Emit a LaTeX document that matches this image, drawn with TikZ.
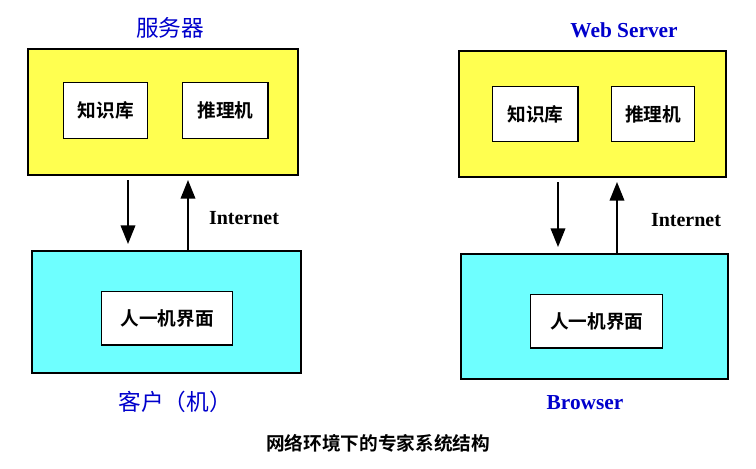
\documentclass[tikz,border=0pt]{standalone}
\usepackage{fontspec}
\setmainfont{Liberation Serif}
\newfontfamily\cjk[BoldFont={* Bold}]{Noto Sans CJK SC}
\usetikzlibrary{arrows.meta}
\definecolor{boxyellow}{RGB}{255,255,80}
\definecolor{boxcyan}{RGB}{110,255,255}
\tikzset{
  outer/.style={draw=black, line width=1.2pt, anchor=north west, inner sep=0pt},
  inbox/.style={draw=black, line width=1pt, fill=white, anchor=north west, inner sep=0pt},
  intext/.style={font=\cjk\bfseries\fontsize{14}{16}\selectfont},
  title/.style={text=blue!80!black, font=\bfseries\fontsize{16}{18}\selectfont},
  cjktitle/.style={title, font=\cjk\fontsize{17}{19}\selectfont},
  link/.style={line width=1.2pt, -{Triangle[width=11pt,length=14pt]}},
  netlbl/.style={font=\bfseries\fontsize{15}{17}\selectfont}
}
\begin{document}
\begin{tikzpicture}[x=0.75pt,y=-0.75pt]
\useasboundingbox (0,0) rectangle (756,468);
% left side
\node[cjktitle] (srvT) at (170,28) {服务器};
\node[outer, fill=boxyellow, minimum width=202.5pt, minimum height=94.5pt] (srv) at (27,48) {};
\node[inbox, minimum width=63pt, minimum height=42pt] (kb) at (63,82) {};
\node[intext] at (kb.center) {知识库};
\node[inbox, minimum width=64pt, minimum height=42pt] (ie) at (182,82) {};
\node[intext] at (ie.center) {推理机};
\node[outer, fill=boxcyan, minimum width=201.75pt, minimum height=91.5pt] (cli) at (31,250) {};
\node[inbox, minimum width=98pt, minimum height=40pt] (ui) at (101,291) {};
\node[intext] at (ui.center) {人一机界面};
\node[cjktitle] (cliT) at (175,402) {客户（机）};
\coordinate (d1) at (128,180);
\coordinate (d2) at (128,244);
\coordinate (u1) at (188,250);
\coordinate (u2) at (188,180);
\draw[link] (d1) -- (d2);
\draw[link] (u1) -- (u2);
\node[netlbl] (net1) at (244,218) {Internet};
% right side
\node[title] (webT) at (624,30) {Web Server};
\node[outer, fill=boxyellow, minimum width=200.25pt, minimum height=94.5pt] (web) at (458,50) {};
\node[inbox, minimum width=64pt, minimum height=41pt] (kb2) at (492,86) {};
\node[intext] at (kb2.center) {知识库};
\node[inbox, minimum width=62pt, minimum height=41pt] (ie2) at (611,86) {};
\node[intext] at (ie2.center) {推理机};
\node[outer, fill=boxcyan, minimum width=200.25pt, minimum height=93.75pt] (brw) at (460,253) {};
\node[inbox, minimum width=99pt, minimum height=40pt] (ui2) at (530,294) {};
\node[intext] at (ui2.center) {人一机界面};
\node[title] (brwT) at (585,403) {Browser};
\coordinate (d3) at (558,182);
\coordinate (d4) at (558,247);
\coordinate (u3) at (617,253);
\coordinate (u4) at (617,182);
\draw[link] (d3) -- (d4);
\draw[link] (u3) -- (u4);
\node[netlbl] (net2) at (686,220) {Internet};
% caption
\node[font=\cjk\bfseries\fontsize{14}{16}\selectfont] (cap) at (378,443) {网络环境下的专家系统结构};
\end{tikzpicture}
\end{document}
